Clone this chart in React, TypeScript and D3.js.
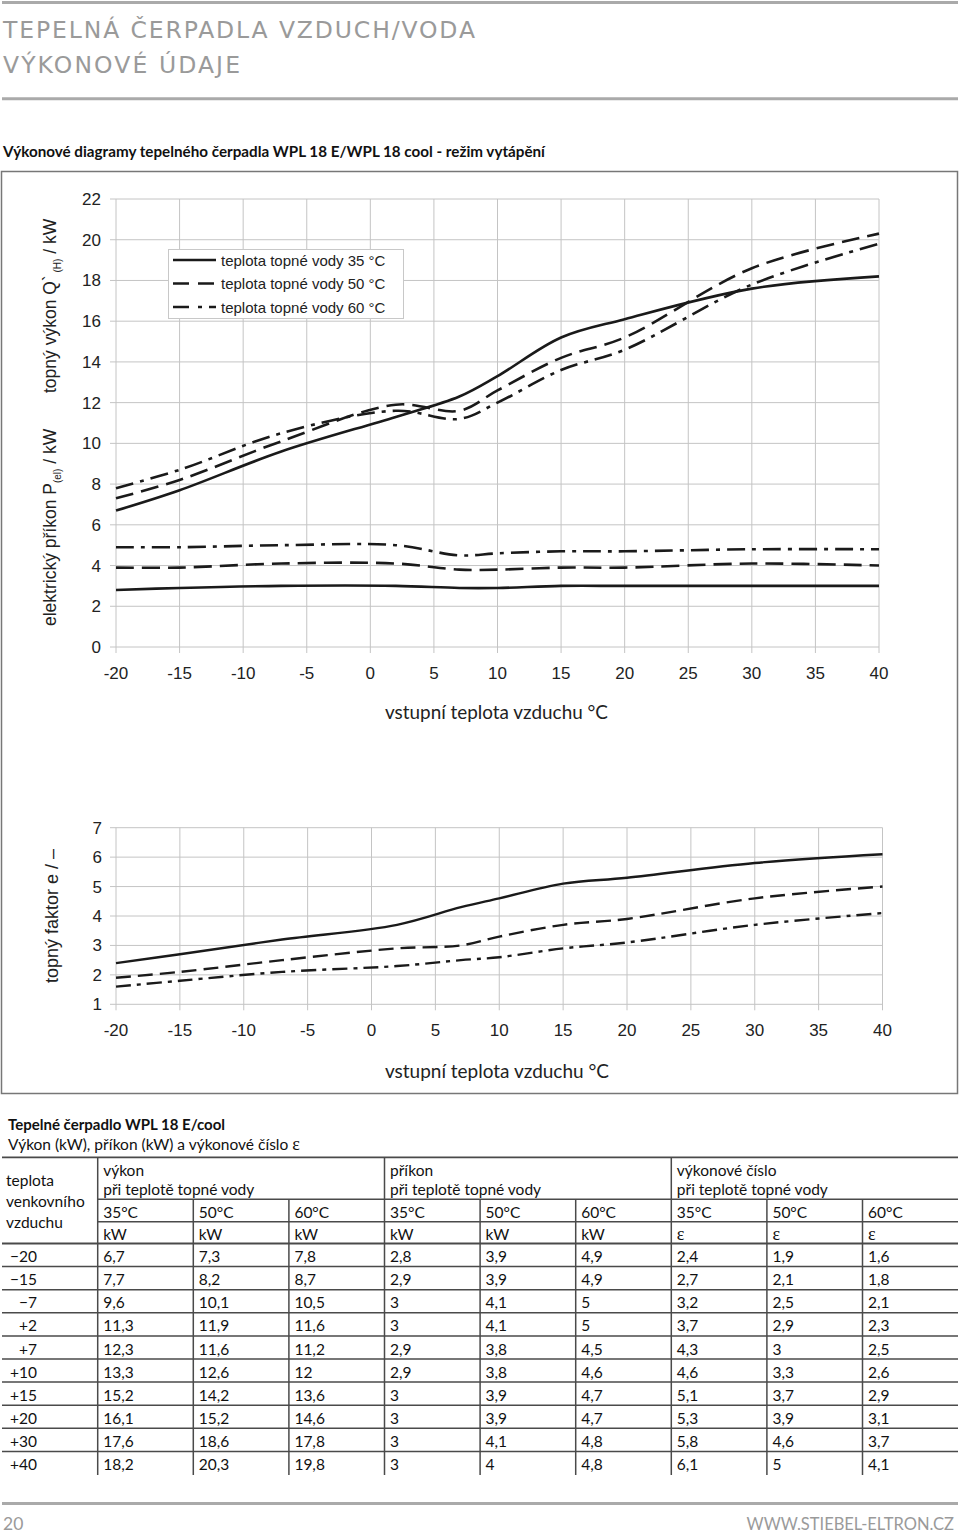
import React from 'react';
import * as d3 from 'd3';

// ---------- data ----------
const temps = [-20, -15, -7, 2, 7, 10, 15, 20, 30, 40];
const tempLabels = ['−20', '−15', '−7', '+2', '+7', '+10', '+15', '+20', '+30', '+40'];
const heat35 = [6.7, 7.7, 9.6, 11.3, 12.3, 13.3, 15.2, 16.1, 17.6, 18.2];
const heat50 = [7.3, 8.2, 10.1, 11.9, 11.6, 12.6, 14.2, 15.2, 18.6, 20.3];
const heat60 = [7.8, 8.7, 10.5, 11.6, 11.2, 12, 13.6, 14.6, 17.8, 19.8];
const pow35 = [2.8, 2.9, 3, 3, 2.9, 2.9, 3, 3, 3, 3];
const pow50 = [3.9, 3.9, 4.1, 4.1, 3.8, 3.8, 3.9, 3.9, 4.1, 4];
const pow60 = [4.9, 4.9, 5, 5, 4.5, 4.6, 4.7, 4.7, 4.8, 4.8];
const cop35 = [2.4, 2.7, 3.2, 3.7, 4.3, 4.6, 5.1, 5.3, 5.8, 6.1];
const cop50 = [1.9, 2.1, 2.5, 2.9, 3, 3.3, 3.7, 3.9, 4.6, 5];
const cop60 = [1.6, 1.8, 2.1, 2.3, 2.5, 2.6, 2.9, 3.1, 3.7, 4.1];

const xTicks = [-20, -15, -10, -5, 0, 5, 10, 15, 20, 25, 30, 35, 40];
const yTicksTop = [0, 2, 4, 6, 8, 10, 12, 14, 16, 18, 20, 22];
const yTicksBottom = [1, 2, 3, 4, 5, 6, 7];
const legendLabels = ['teplota topné vody 35 °C', 'teplota topné vody 50 °C', 'teplota topné vody 60 °C'];
const waterTemps = ['35°C', '50°C', '60°C'];
const groupTitles = ['výkon', 'příkon', 'výkonové číslo'];
const groupUnits = ['kW', 'kW', 'ε'];

// ---------- style ----------
const DASHES = ['none', '18,8', '18,7,4,7'];
const DASHES2 = ['none', '15,7', '15,6,4,6'];
const ARIAL = "'Liberation Sans', Arial, sans-serif";
const SANS = "Lato, 'Open Sans', sans-serif";
const SERIF = "'Liberation Serif', serif";
const GRID = '#c4c4c4';
const LINE = '#1a1a1a';
const TGRAY = '#9a9a9a';
const TLINE = '#4a4a4a';

const fmt = (v: number) => String(v).replace('.', ',');

export default function App() {
  const x1 = d3.scaleLinear().domain([-20, 40]).range([116, 879]);
  const y1 = d3.scaleLinear().domain([0, 22]).range([647, 199]);
  const x2 = d3.scaleLinear().domain([-20, 40]).range([116, 882.5]);
  const y2 = d3.scaleLinear().domain([1, 7]).range([1004.3, 827.7]);

  const mk = (xs: d3.ScaleLinear<number, number>, ys: d3.ScaleLinear<number, number>) =>
    d3
      .line<number>()
      .x((_, i) => xs(temps[i]))
      .y((d) => ys(d))
      .curve(d3.curveCatmullRom.alpha(0.5));
  const l1 = mk(x1, y1);
  const l2 = mk(x2, y2);

  const heat = [heat35, heat50, heat60];
  const pow = [pow35, pow50, pow60];
  const cop = [cop35, cop50, cop60];

  // table geometry
  const colX0 = 97.7;
  const colW = 95.6;
  const colX = (i: number) => colX0 + i * colW;
  const tTop = 1157.3;
  const tH1 = 1199.3;
  const tH2 = 1221.7;
  const tH3 = 1243.5;
  const rowH = 23.1;
  const tEnd = 1475;

  const rows = temps.map((_, r) => [
    heat35[r], heat50[r], heat60[r],
    pow35[r], pow50[r], pow60[r],
    cop35[r], cop50[r], cop60[r],
  ]);

  return (
    <svg
      width={960}
      height={1537}
      style={{ position: 'absolute', left: 0, top: 0, background: '#fff' }}
    >
      {/* header */}
      <line x1={2} x2={958} y1={2.5} y2={2.5} stroke="#aaa" strokeWidth={3} />
      <text x={3} y={37.5} fontFamily="'DejaVu Sans', sans-serif" fontSize={23.5} fill={TGRAY}
        textLength={472} lengthAdjust="spacing">TEPELNÁ ČERPADLA VZDUCH/VODA</text>
      <text x={3} y={73} fontFamily="'DejaVu Sans', sans-serif" fontSize={23.5} fill={TGRAY}
        textLength={237} lengthAdjust="spacing">VÝKONOVÉ ÚDAJE</text>
      <line x1={2} x2={958} y1={98.7} y2={98.7} stroke="#aaa" strokeWidth={3} />
      <text x={3} y={157} fontFamily={SANS} fontWeight="bold" fontSize={16} fill="#111"
        textLength={542} lengthAdjust="spacingAndGlyphs">
        Výkonové diagramy tepelného čerpadla WPL 18 E/WPL 18 cool - režim vytápění
      </text>

      {/* chart frame */}
      <rect x={1.5} y={171.5} width={956} height={922} fill="none" stroke="#777" strokeWidth={1.5} />

      {/* ---------- top chart ---------- */}
      <g>
        {yTicksTop.map((t) => (
          <g key={'yt' + t}>
            <line x1={110} x2={x1(40)} y1={y1(t)} y2={y1(t)} stroke={GRID} strokeWidth={1} />
            <text x={101} y={y1(t) + 6} textAnchor="end" fontFamily={ARIAL} fontSize={17} fill="#222">{t}</text>
          </g>
        ))}
        {xTicks.map((t) => (
          <g key={'xt' + t}>
            <line x1={x1(t)} x2={x1(t)} y1={y1(22)} y2={y1(0) + 6} stroke={GRID} strokeWidth={1} />
            <text x={x1(t)} y={y1(0) + 32} textAnchor="middle" fontFamily={ARIAL} fontSize={17} fill="#222">{t}</text>
          </g>
        ))}
        {pow.map((s, i) => (
          <path key={'p' + i} d={l1(s) || ''} fill="none" stroke={LINE} strokeWidth={2.6} strokeDasharray={DASHES[i]} />
        ))}
        {heat.map((s, i) => (
          <path key={'h' + i} d={l1(s) || ''} fill="none" stroke={LINE} strokeWidth={2.6} strokeDasharray={DASHES[i]} />
        ))}
        {/* legend */}
        <rect x={168.5} y={249.5} width={235} height={69} fill="#fff" stroke="#c8c8c8" strokeWidth={1} />
        {legendLabels.map((lab, i) => {
          const yy = 260 + i * 23.5;
          return (
            <g key={'lg' + i}>
              <line x1={173} x2={216} y1={yy} y2={yy} stroke={LINE} strokeWidth={2.6} strokeDasharray={DASHES[i] === 'none' ? 'none' : i === 1 ? '16,9' : '16,9,4,7'} />
              <text x={221} y={yy + 5.5} fontFamily={ARIAL} fontSize={15} fill="#222">{lab}</text>
            </g>
          );
        })}
        {/* y axis title */}
        <text transform="translate(56,626) rotate(-90)" fontFamily={ARIAL} fontSize={17.5} fill="#222">
          elektrický příkon P<tspan fontSize={10} dy={5}>(el)</tspan><tspan dy={-5}> / kW</tspan>
        </text>
        <text transform="translate(56,393) rotate(-90)" fontFamily={ARIAL} fontSize={17.5} fill="#222">
          topný výkon Q`<tspan fontSize={10} dy={5}> (H)</tspan><tspan dy={-5}>  / kW</tspan>
        </text>
        <text x={385} y={719} fontFamily={SANS} fontSize={19} fill="#222" textLength={223} lengthAdjust="spacingAndGlyphs">
          vstupní teplota vzduchu °C
        </text>
      </g>

      {/* ---------- bottom chart ---------- */}
      <g>
        {yTicksBottom.map((t) => (
          <g key={'yb' + t}>
            <line x1={110} x2={x2(40)} y1={y2(t)} y2={y2(t)} stroke={GRID} strokeWidth={1} />
            <text x={102} y={y2(t) + 6} textAnchor="end" fontFamily={ARIAL} fontSize={17} fill="#222">{t}</text>
          </g>
        ))}
        {xTicks.map((t) => (
          <g key={'xb' + t}>
            <line x1={x2(t)} x2={x2(t)} y1={y2(7)} y2={y2(1) + 6} stroke={GRID} strokeWidth={1} />
            <text x={x2(t)} y={y2(1) + 32} textAnchor="middle" fontFamily={ARIAL} fontSize={17} fill="#222">{t}</text>
          </g>
        ))}
        {cop.map((s, i) => (
          <path key={'c' + i} d={l2(s) || ''} fill="none" stroke={LINE} strokeWidth={2.4} strokeDasharray={DASHES2[i]} />
        ))}
        <text transform="translate(58,983) rotate(-90)" fontFamily={ARIAL} fontSize={18} fill="#222">
          topný faktor e / –
        </text>
        <text x={385} y={1078} fontFamily={SANS} fontSize={19} fill="#222" textLength={224} lengthAdjust="spacingAndGlyphs">
          vstupní teplota vzduchu °C
        </text>
      </g>

      {/* ---------- table ---------- */}
      <g fontFamily={SANS} fontSize={15.5} fill="#111">
        <text x={8} y={1130} fontWeight="bold" fontSize={16} textLength={217} lengthAdjust="spacingAndGlyphs">
          Tepelné čerpadlo WPL 18 E/cool
        </text>
        <text x={8} y={1150} fontSize={15.5}>
          Výkon (kW), příkon (kW) a výkonové číslo <tspan fontFamily={SERIF} fontSize={18}>ε</tspan>
        </text>

        {/* horizontal rules */}
        <line x1={2} x2={958} y1={tTop} y2={tTop} stroke={TLINE} strokeWidth={1.8} />
        <line x1={colX0} x2={958} y1={tH1} y2={tH1} stroke={TLINE} strokeWidth={1.5} />
        <line x1={colX0} x2={958} y1={tH2} y2={tH2} stroke={TLINE} strokeWidth={1.5} />
        <line x1={2} x2={958} y1={tH3} y2={tH3} stroke={TLINE} strokeWidth={1.8} />
        {temps.slice(0, temps.length - 1).map((_, r) => (
          <line key={'hr' + r} x1={2} x2={958} y1={tH3 + (r + 1) * rowH} y2={tH3 + (r + 1) * rowH} stroke={TLINE} strokeWidth={1.5} />
        ))}
        {/* vertical rules */}
        {d3.range(9).map((c) => (
          <line key={'vr' + c} x1={colX(c)} x2={colX(c)} y1={c % 3 === 0 ? tTop : tH1} y2={tEnd} stroke={TLINE} strokeWidth={1.5} />
        ))}

        {/* header texts */}
        <text x={6} y={1186}>teplota</text>
        <text x={6} y={1207}>venkovního</text>
        <text x={6} y={1228}>vzduchu</text>
        {groupTitles.map((g, gi) => (
          <g key={'gt' + gi}>
            <text x={colX(gi * 3) + 5.5} y={1176}>{g}</text>
            <text x={colX(gi * 3) + 5.5} y={1194.5}>při teplotě topné vody</text>
            {waterTemps.map((w, wi) => (
              <g key={'w' + wi}>
                <text x={colX(gi * 3 + wi) + 5.5} y={1217.5}>{w}</text>
                <text x={colX(gi * 3 + wi) + 5.5} y={1239.5}
                  fontFamily={groupUnits[gi] === 'ε' ? SERIF : SANS}
                  fontSize={groupUnits[gi] === 'ε' ? 18 : 15.5}>{groupUnits[gi]}</text>
              </g>
            ))}
          </g>
        ))}

        {/* data rows */}
        {rows.map((row, r) => {
          const by = tH3 + (r + 1) * rowH - 4.5;
          return (
            <g key={'row' + r}>
              <text x={37} y={by} textAnchor="end">{tempLabels[r]}</text>
              {row.map((v, c) => (
                <text key={'c' + c} x={colX(c) + 5.5} y={by}>{fmt(v)}</text>
              ))}
            </g>
          );
        })}
      </g>

      {/* footer */}
      <line x1={2} x2={958} y1={1503.5} y2={1503.5} stroke="#aaa" strokeWidth={3} />
      <text x={3} y={1530} fontFamily={SANS} fontSize={17.5} fill={TGRAY}>20</text>
      <text x={954} y={1530} textAnchor="end" fontFamily={SANS} fontSize={16.5} fill={TGRAY}>
        WWW.STIEBEL-ELTRON.CZ
      </text>
    </svg>
  );
}
